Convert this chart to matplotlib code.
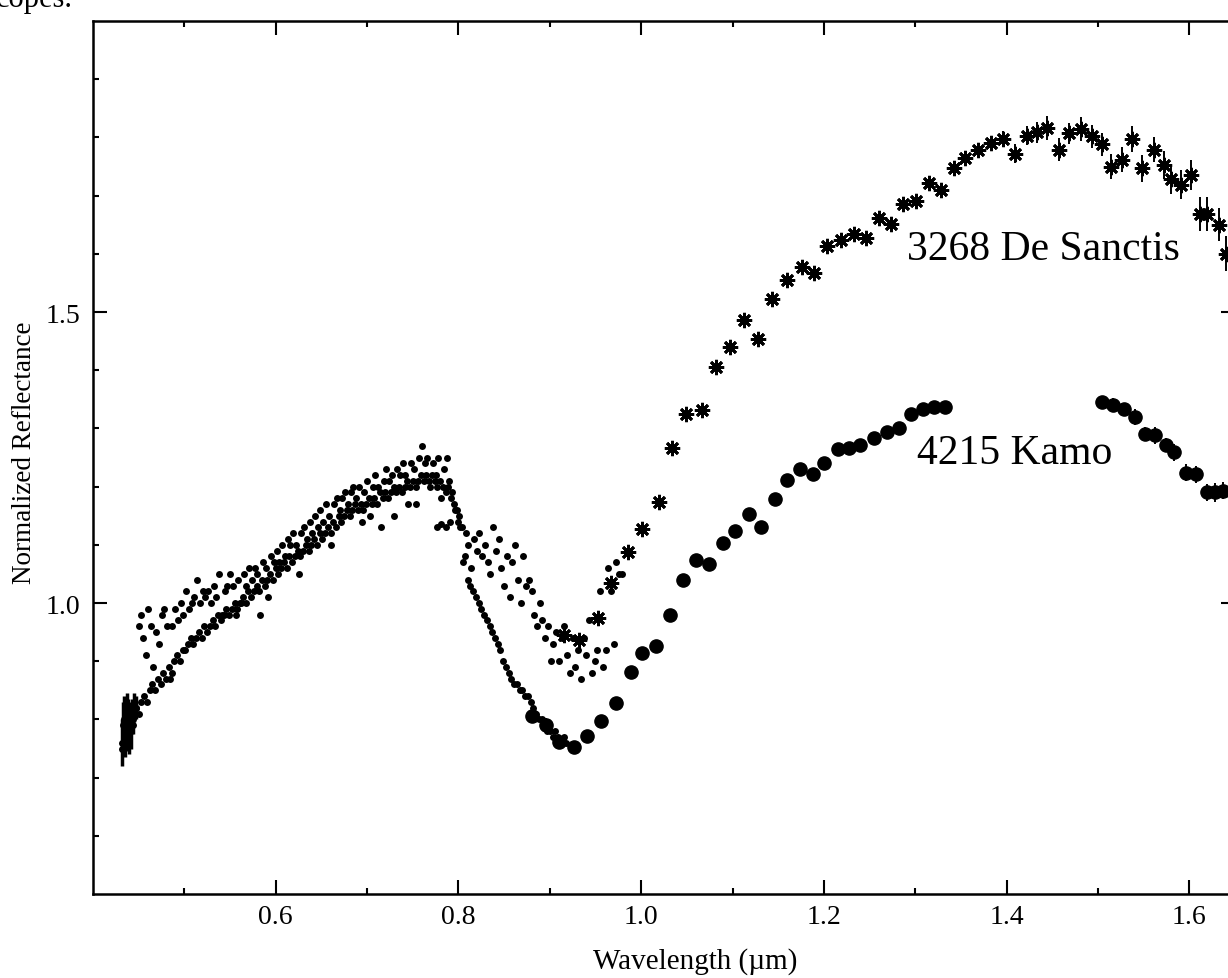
import matplotlib
matplotlib.use('Agg')
import matplotlib.pyplot as plt
from matplotlib.ticker import FixedLocator

plt.rcParams['font.family'] = ['Liberation Serif', 'DejaVu Serif']

# visible spectrum of 4215 Kamo (small dots)
kamo_vis_x = [0.432, 0.435, 0.438, 0.441, 0.444, 0.447, 0.450, 0.453, 0.456, 0.459,
              0.462, 0.465, 0.468, 0.471, 0.474, 0.477, 0.480, 0.483, 0.486, 0.489,
              0.492, 0.495, 0.498, 0.501, 0.504, 0.507, 0.510, 0.513, 0.516, 0.519,
              0.522, 0.525, 0.528, 0.531, 0.534, 0.537, 0.540, 0.543, 0.546, 0.549,
              0.552, 0.555, 0.558, 0.561, 0.564, 0.567, 0.570, 0.573, 0.576, 0.579,
              0.582, 0.585, 0.588, 0.591, 0.594, 0.597, 0.600, 0.603, 0.606, 0.609,
              0.612, 0.615, 0.618, 0.621, 0.624, 0.627, 0.630, 0.633, 0.636, 0.639,
              0.642, 0.645, 0.648, 0.651, 0.654, 0.657, 0.660, 0.663, 0.666, 0.669,
              0.672, 0.675, 0.678, 0.681, 0.684, 0.687, 0.690, 0.693, 0.696, 0.699,
              0.702, 0.705, 0.708, 0.711, 0.714, 0.717, 0.720, 0.723, 0.726, 0.729,
              0.732, 0.735, 0.738, 0.741, 0.744, 0.747, 0.750, 0.753, 0.756, 0.759,
              0.762, 0.765, 0.768, 0.771, 0.774, 0.777, 0.780, 0.783, 0.786, 0.789,
              0.792, 0.795, 0.798, 0.801, 0.804, 0.807, 0.810, 0.813, 0.816, 0.819,
              0.822, 0.825, 0.828, 0.831, 0.834, 0.837, 0.840, 0.843, 0.846, 0.849,
              0.852, 0.855, 0.858, 0.861, 0.864, 0.867, 0.870, 0.873, 0.876, 0.879,
              0.882, 0.885, 0.888, 0.891, 0.894, 0.897, 0.900, 0.903, 0.906, 0.909,
              0.912, 0.915, 0.918, 0.776, 0.781, 0.786, 0.791]
kamo_vis_y = [0.75, 0.79, 0.77, 0.80, 0.79, 0.82, 0.81, 0.83, 0.84, 0.83,
              0.85, 0.86, 0.85, 0.87, 0.86, 0.88, 0.87, 0.89, 0.88, 0.90,
              0.91, 0.90, 0.92, 0.92, 0.93, 0.94, 0.93, 0.94, 0.95, 0.94,
              0.96, 0.95, 0.96, 0.97, 0.96, 0.98, 0.97, 0.98, 0.99, 0.98,
              0.99, 1.00, 0.99, 1.00, 1.01, 1.00, 1.02, 1.01, 1.02, 1.03,
              1.02, 1.04, 1.03, 1.04, 1.05, 1.04, 1.06, 1.05, 1.06, 1.07,
              1.06, 1.08, 1.07, 1.08, 1.09, 1.08, 1.09, 1.10, 1.09, 1.10,
              1.11, 1.10, 1.12, 1.11, 1.12, 1.13, 1.12, 1.14, 1.13, 1.15,
              1.14, 1.15, 1.16, 1.15, 1.16, 1.17, 1.16, 1.17, 1.16, 1.17,
              1.18, 1.17, 1.18, 1.17, 1.19, 1.18, 1.19, 1.18, 1.19, 1.20,
              1.19, 1.20, 1.19, 1.20, 1.21, 1.20, 1.21, 1.20, 1.21, 1.22,
              1.21, 1.22, 1.21, 1.22, 1.21, 1.20, 1.21, 1.20, 1.19, 1.20,
              1.18, 1.17, 1.16, 1.15, 1.13, 1.08, 1.04, 1.03, 1.02, 1.01,
              1.00, 0.99, 0.98, 0.97, 0.96, 0.95, 0.94, 0.93, 0.92, 0.90,
              0.89, 0.88, 0.87, 0.86, 0.86, 0.85, 0.85, 0.84, 0.84, 0.83,
              0.82, 0.81, 0.80, 0.80, 0.79, 0.78, 0.78, 0.77, 0.78, 0.77,
              0.76, 0.77, 0.76, 1.13, 1.135, 1.13, 1.14]
# noisy blue end of the Kamo spectrum
kamo_blue_x = [0.432, 0.433, 0.434, 0.435, 0.436, 0.437, 0.438, 0.439, 0.440, 0.441,
               0.442, 0.443, 0.444, 0.445, 0.447]
kamo_blue_y = [0.76, 0.79, 0.80, 0.77, 0.78, 0.81, 0.80, 0.77, 0.79, 0.80,
               0.78, 0.81, 0.80, 0.82, 0.82]
kamo_blue_err = [0.04, 0.04, 0.04, 0.035, 0.035, 0.035, 0.035, 0.03, 0.03, 0.03,
                 0.03, 0.025, 0.025, 0.025, 0.02]

# visible spectrum of 3268 De Sanctis (small dots)
desanctis_vis_x = [0.450, 0.453, 0.455, 0.458, 0.460, 0.463, 0.466, 0.469, 0.472, 0.475,
                   0.478, 0.481, 0.484, 0.487, 0.490, 0.493, 0.496, 0.499, 0.502, 0.505,
                   0.508, 0.511, 0.514, 0.517, 0.520, 0.523, 0.526, 0.529, 0.532, 0.535,
                   0.538, 0.541, 0.544, 0.547, 0.550, 0.553, 0.556, 0.559, 0.562, 0.565,
                   0.568, 0.571, 0.574, 0.577, 0.580, 0.583, 0.586, 0.589, 0.592, 0.595,
                   0.598, 0.601, 0.604, 0.607, 0.610, 0.613, 0.616, 0.619, 0.622, 0.625,
                   0.628, 0.631, 0.634, 0.637, 0.640, 0.643, 0.646, 0.649, 0.652, 0.655,
                   0.658, 0.661, 0.664, 0.667, 0.670, 0.673, 0.676, 0.679, 0.682, 0.685,
                   0.688, 0.691, 0.694, 0.697, 0.700, 0.703, 0.706, 0.709, 0.712, 0.715,
                   0.718, 0.721, 0.724, 0.727, 0.730, 0.733, 0.736, 0.739, 0.742, 0.745,
                   0.748, 0.751, 0.754, 0.757, 0.760, 0.763, 0.766, 0.769, 0.772, 0.775,
                   0.778, 0.781, 0.784, 0.787, 0.790, 0.793, 0.796, 0.799, 0.802, 0.805,
                   0.808, 0.811, 0.814, 0.817, 0.820, 0.823, 0.826, 0.829, 0.832, 0.835,
                   0.838, 0.841, 0.844, 0.847, 0.850, 0.853, 0.856, 0.859, 0.862, 0.865,
                   0.868, 0.871, 0.874, 0.877, 0.880, 0.883, 0.886, 0.889, 0.892, 0.895,
                   0.898, 0.901, 0.904, 0.907, 0.910, 0.913, 0.916, 0.919, 0.922, 0.925,
                   0.928, 0.931, 0.934, 0.937, 0.940, 0.943, 0.946, 0.949, 0.952, 0.955,
                   0.958, 0.961, 0.964, 0.967, 0.970, 0.973, 0.976, 0.979]
desanctis_vis_y = [0.96, 0.98, 0.94, 0.91, 0.99, 0.96, 0.89, 0.95, 0.93, 0.98,
                   0.99, 0.96, 0.87, 0.96, 0.99, 0.97, 1.00, 0.98, 1.02, 0.99,
                   1.00, 1.01, 1.04, 1.00, 1.02, 1.01, 1.02, 1.00, 1.03, 1.01,
                   1.05, 0.98, 1.02, 1.03, 1.05, 1.03, 0.98, 1.04, 1.00, 1.05,
                   1.03, 1.06, 1.04, 1.06, 1.05, 0.98, 1.07, 1.06, 1.01, 1.08,
                   1.07, 1.09, 1.07, 1.10, 1.08, 1.11, 1.10, 1.12, 1.10, 1.05,
                   1.12, 1.13, 1.11, 1.14, 1.12, 1.15, 1.13, 1.16, 1.14, 1.17,
                   1.15, 1.10, 1.17, 1.18, 1.16, 1.18, 1.19, 1.17, 1.19, 1.20,
                   1.18, 1.20, 1.14, 1.19, 1.21, 1.15, 1.20, 1.22, 1.20, 1.13,
                   1.21, 1.23, 1.21, 1.22, 1.15, 1.23, 1.22, 1.24, 1.22, 1.17,
                   1.24, 1.23, 1.17, 1.25, 1.27, 1.24, 1.25, 1.20, 1.24, 1.22,
                   1.25, 1.18, 1.23, 1.25, 1.21, 1.19, 1.16, 1.14, 1.13, 1.07,
                   1.12, 1.10, 1.06, 1.11, 1.09, 1.12, 1.08, 1.10, 1.07, 1.05,
                   1.13, 1.09, 1.11, 1.06, 1.03, 1.08, 1.01, 1.07, 1.10, 1.04,
                   1.00, 1.08, 1.03, 1.04, 1.02, 0.98, 0.96, 1.00, 0.97, 0.94,
                   0.96, 0.90, 0.93, 0.95, 0.90, 0.94, 0.96, 0.91, 0.88, 0.94,
                   0.89, 0.92, 0.87, 0.94, 0.91, 0.97, 0.88, 0.90, 0.92, 1.02,
                   0.89, 0.92, 1.06, 1.02, 0.93, 1.07, 1.05, 1.05]

# near-IR spectrum of 4215 Kamo (filled circles)
kamo_ir_x = [0.881, 0.896, 0.910, 0.927, 0.941, 0.956, 0.972, 0.989, 1.001, 1.016,
             1.032, 1.046, 1.060, 1.074, 1.090, 1.103, 1.118, 1.131, 1.146, 1.160,
             1.174, 1.188, 1.200, 1.215, 1.228, 1.240, 1.255, 1.269, 1.282, 1.295,
             1.308, 1.321, 1.333,
             1.504, 1.517, 1.528, 1.540, 1.552, 1.562, 1.574, 1.583, 1.596, 1.607,
             1.619, 1.628, 1.637]
kamo_ir_y = [0.805, 0.790, 0.762, 0.753, 0.771, 0.797, 0.829, 0.882, 0.914, 0.926,
             0.979, 1.040, 1.074, 1.067, 1.103, 1.124, 1.153, 1.131, 1.178, 1.212,
             1.231, 1.221, 1.240, 1.264, 1.267, 1.272, 1.283, 1.293, 1.300, 1.324,
             1.333, 1.336, 1.336,
             1.345, 1.340, 1.333, 1.319, 1.290, 1.288, 1.272, 1.259, 1.224, 1.221,
             1.190, 1.190, 1.193]
kamo_ir_err = [0.006, 0.012, 0.006, 0.005, 0.005, 0.005, 0.005, 0.005, 0.005, 0.005,
               0.005, 0.005, 0.005, 0.005, 0.005, 0.005, 0.005, 0.005, 0.005, 0.005,
               0.005, 0.005, 0.005, 0.005, 0.005, 0.005, 0.005, 0.005, 0.005, 0.008,
               0.005, 0.005, 0.005,
               0.010, 0.012, 0.010, 0.014, 0.012, 0.014, 0.012, 0.015, 0.014, 0.015,
               0.015, 0.016, 0.015]

# near-IR spectrum of 3268 De Sanctis (asterisks)
desanctis_ir_x = [0.915, 0.932, 0.953, 0.967, 0.986, 1.001, 1.019, 1.034, 1.049, 1.067,
                  1.082, 1.097, 1.113, 1.128, 1.143, 1.160, 1.176, 1.189, 1.203, 1.219,
                  1.233, 1.246, 1.260, 1.274, 1.287, 1.301, 1.315, 1.328, 1.342, 1.355,
                  1.369, 1.383, 1.396, 1.409, 1.422, 1.433, 1.444, 1.457, 1.468, 1.481,
                  1.493, 1.504, 1.514, 1.526, 1.537, 1.548, 1.561, 1.572, 1.580, 1.591,
                  1.602, 1.612, 1.619, 1.632, 1.640]
desanctis_ir_y = [0.945, 0.936, 0.974, 1.034, 1.087, 1.128, 1.174, 1.267, 1.324, 1.331,
                  1.405, 1.440, 1.486, 1.453, 1.522, 1.555, 1.578, 1.567, 1.614, 1.624,
                  1.634, 1.628, 1.662, 1.652, 1.686, 1.690, 1.722, 1.710, 1.747, 1.764,
                  1.779, 1.790, 1.797, 1.772, 1.803, 1.809, 1.816, 1.779, 1.807, 1.814,
                  1.802, 1.788, 1.750, 1.762, 1.797, 1.747, 1.779, 1.753, 1.728, 1.719,
                  1.736, 1.669, 1.669, 1.650, 1.600]
desanctis_ir_err = [0.008, 0.008, 0.010, 0.006, 0.006, 0.006, 0.006, 0.006, 0.006, 0.006,
                    0.006, 0.006, 0.006, 0.006, 0.006, 0.008, 0.008, 0.008, 0.008, 0.008,
                    0.008, 0.008, 0.008, 0.008, 0.010, 0.010, 0.010, 0.010, 0.012, 0.012,
                    0.012, 0.012, 0.014, 0.016, 0.016, 0.018, 0.020, 0.020, 0.018, 0.021,
                    0.020, 0.020, 0.021, 0.022, 0.022, 0.023, 0.022, 0.024, 0.025, 0.025,
                    0.026, 0.029, 0.029, 0.028, 0.030]

xticks_major = [0.6, 0.8, 1.0, 1.2, 1.4, 1.6]
xticks_minor = [0.5, 0.7, 0.9, 1.1, 1.3, 1.5]
yticks_major = [1.0, 1.5]
yticks_minor = [0.6, 0.7, 0.8, 0.9, 1.1, 1.2, 1.3, 1.4, 1.6, 1.7, 1.8, 1.9]

fig = plt.figure(figsize=(12.28, 9.79), dpi=100)
ax = fig.add_axes([93 / 1228, 84 / 979, 1142 / 1228, 873 / 979])

# small dots
ax.plot(kamo_vis_x, kamo_vis_y, 'o', color='black', ms=5, mec='none')
ax.errorbar(kamo_blue_x, kamo_blue_y, yerr=kamo_blue_err, fmt='o', color='black',
            ms=5, mec='none', elinewidth=2.5, capsize=0)
ax.plot(desanctis_vis_x, desanctis_vis_y, 'o', color='black', ms=5, mec='none')

# filled circles
ax.errorbar(kamo_ir_x, kamo_ir_y, yerr=kamo_ir_err, fmt='o', color='black',
            ms=9.5, elinewidth=1.4, capsize=0)

# asterisks
ax.errorbar(desanctis_ir_x, desanctis_ir_y, yerr=desanctis_ir_err, fmt='none',
            ecolor='black', elinewidth=1.4, capsize=0)
ax.plot(desanctis_ir_x, desanctis_ir_y, linestyle='none', marker=(8, 2, 0),
        color='black', ms=11, mew=2)
ax.plot(desanctis_ir_x, desanctis_ir_y, 'o', color='black', ms=5.5)

ax.text(1.291, 1.591, '3268 De Sanctis', fontsize=30, va='baseline')
ax.text(1.302, 1.241, '4215 Kamo', fontsize=30, va='baseline')

ax.set_xlim(0.4, 1.65)
ax.set_ylim(0.5, 2.0)
ax.xaxis.set_major_locator(FixedLocator(xticks_major))
ax.xaxis.set_minor_locator(FixedLocator(xticks_minor))
ax.yaxis.set_major_locator(FixedLocator(yticks_major))
ax.yaxis.set_minor_locator(FixedLocator(yticks_minor))
ax.set_xticklabels(['%.1f' % v for v in xticks_major])
ax.set_yticklabels(['%.1f' % v for v in yticks_major])

ax.tick_params(which='both', direction='in', top=True, right=True, width=1.5)
ax.tick_params(which='major', length=10, labelsize=20)
ax.tick_params(which='minor', length=4.5)
ax.tick_params(axis='x', pad=7)
ax.tick_params(axis='y', pad=9)
for s in ax.spines.values():
    s.set_linewidth(1.8)

ax.set_xlabel('Wavelength (µm)', fontsize=21)
ax.xaxis.set_label_coords(0.527, -0.061)
ax.set_ylabel('Normalized Reflectance', fontsize=19.5)
ax.yaxis.set_label_coords(-0.049, 0.507)

# cut-off line of the page text above the figure
fig.text(-0.003, 1 - 7 / 979, 'copes.', fontsize=22, va='baseline')

fig.savefig('out.png', dpi=100)
